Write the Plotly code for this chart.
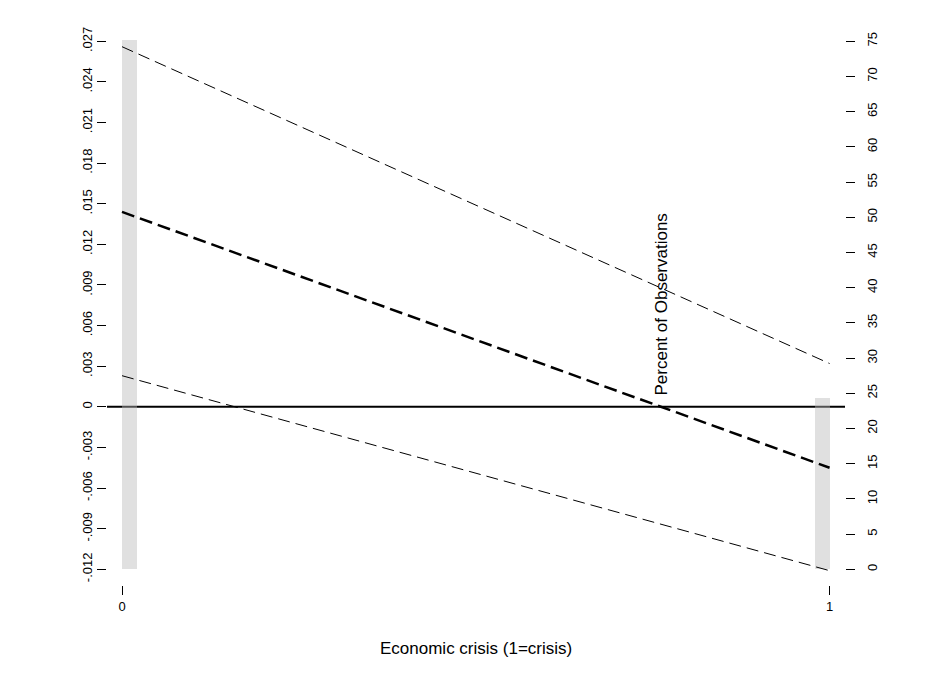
import plotly.graph_objects as go

# Economic crisis indicator (0 = no crisis, 1 = crisis)
crisis = [0, 1]
crisis_labels = ["0", "1"]

# Share of observations in each group (right axis, %)
pct_obs = [75.2, 24.4]

# Marginal effect with 95% confidence bounds (left axis)
margin_est = [0.0144, -0.0045]
ci_upper = [0.0266, 0.0032]
ci_lower = [0.0023, -0.0121]

# Axis ticks
left_vals = [-0.012, -0.009, -0.006, -0.003, 0.0, 0.003, 0.006,
             0.009, 0.012, 0.015, 0.018, 0.021, 0.024, 0.027]
left_text = ["-.012", "-.009", "-.006", "-.003", "0", ".003", ".006",
             ".009", ".012", ".015", ".018", ".021", ".024", ".027"]
right_vals = [0, 5, 10, 15, 20, 25, 30, 35, 40, 45, 50, 55, 60, 65, 70, 75]

FONT = "Liberation Sans, Arial, sans-serif"
W, H = 945, 681
ML, MR, MT, MB = 107, 100, 36, 96
plot_h = H - MT - MB
dom_bottom = 10 / plot_h

fig = go.Figure()

# histogram-style bars showing the distribution of the moderator
fig.add_trace(go.Bar(
    x=crisis, y=pct_obs, width=0.021, offset=[0, -0.021],
    marker=dict(color="rgb(184,184,184)", line=dict(width=0)),
    opacity=0.44, yaxis="y", showlegend=False, hoverinfo="skip",
))

# confidence bounds
for bound in (ci_upper, ci_lower):
    fig.add_trace(go.Scatter(
        x=crisis, y=bound, mode="lines", yaxis="y2",
        line=dict(color="black", width=1, dash="12px,6px"),
        showlegend=False,
    ))

# point estimate
fig.add_trace(go.Scatter(
    x=crisis, y=margin_est, mode="lines", yaxis="y2",
    line=dict(color="black", width=2.5, dash="13px,6px"),
    showlegend=False,
))

# reference line at zero
fig.add_shape(type="line", xref="x domain", yref="y2", x0=0, x1=1, y0=0, y1=0,
              line=dict(color="black", width=2), layer="below")

tick_font = dict(family=FONT, size=13, color="black")

fig.update_layout(
    width=W, height=H,
    margin=dict(l=ML, r=MR, t=MT, b=MB, pad=0),
    plot_bgcolor="white", paper_bgcolor="white",
    bargap=0,
    xaxis=dict(
        range=[-0.0212, 1.0218], tickvals=crisis, ticktext=crisis_labels,
        ticks="outside", ticklen=9, tickwidth=1, tickcolor="black",
        showgrid=False, zeroline=False, showline=False,
        anchor="free", position=0, tickfont=tick_font,
    ),
    yaxis=dict(
        side="right", range=[-0.81, 75.753], domain=[dom_bottom, 1],
        tickvals=right_vals, ticks="outside", ticklen=9, tickwidth=1,
        tickcolor="black", tickangle=-90, showgrid=False, zeroline=False,
        showline=False, tickfont=tick_font, ticklabelstandoff=6,
    ),
    yaxis2=dict(
        side="left", overlaying="y", range=[-0.01242, 0.02739],
        tickvals=left_vals, ticktext=left_text, ticks="outside", ticklen=9,
        tickwidth=1, tickcolor="black", tickangle=-90, showgrid=False,
        zeroline=False, showline=False, tickfont=tick_font,
    ),
    annotations=[
        dict(text="Percent of Observations", xref="paper", yref="paper",
             x=(660.5 - ML) / (W - ML - MR), y=(H - MB - 305) / plot_h,
             xanchor="center", yanchor="middle", textangle=-90, showarrow=False,
             font=dict(family=FONT, size=17, color="black")),
        dict(text="Economic crisis (1=crisis)", xref="paper", yref="paper",
             x=0.5, y=(H - MB - 648) / plot_h,
             xanchor="center", yanchor="middle", showarrow=False,
             font=dict(family=FONT, size=17, color="black")),
    ],
)

fig.write_html("out.html")
